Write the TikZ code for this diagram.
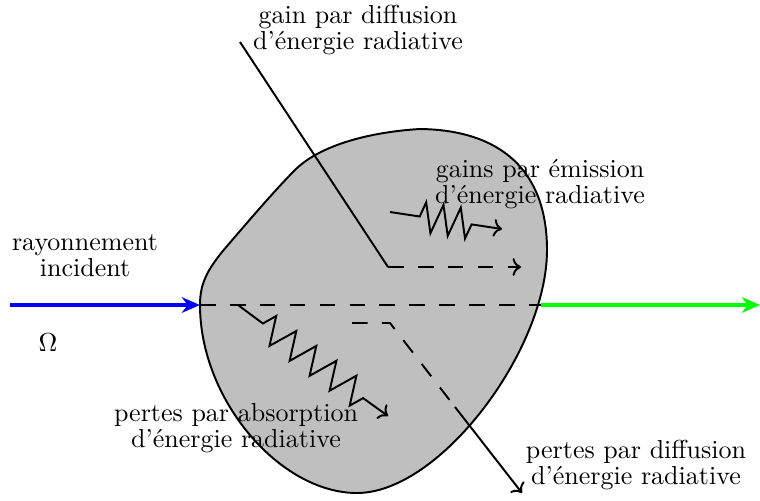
\documentclass[tikz,border=0pt]{standalone}
\usetikzlibrary{arrows.meta}
\begin{document}
\begin{tikzpicture}[x=0.3846pt,y=-0.3846pt,
  thinline/.style={line width=0.75pt},
  dashline/.style={line width=0.75pt,dash pattern=on 6pt off 5.5pt},
  beam/.style={line width=1.8pt,-{Stealth[length=7pt,width=6pt]}},
  lbl/.style={align=center,font=\fontsize{10}{10}\selectfont,inner sep=0pt}]
\useasboundingbox (0,0) rectangle (760,500);
% medium
\draw[thinline,fill=lightgray] (200,305)
  .. controls (200,285) and (206,272) .. (222,252)
  .. controls (245,225) and (275,190) .. (295,170)
  .. controls (320,145) and (370,132) .. (420,129)
  .. controls (500,130) and (547,170) .. (547,250)
  .. controls (547,350) and (440,493) .. (357,493)
  .. controls (280,493) and (200,400) .. (200,305) -- cycle;
% coordinates
\coordinate (inL) at (10,305);
\coordinate (inR) at (200,305);
\coordinate (outL) at (541,305);
\coordinate (outR) at (760,305);
\coordinate (g0) at (240,42);
\coordinate (g1) at (388,267);
\coordinate (g2) at (521,267);
\coordinate (d0) at (352,323);
\coordinate (d1) at (390,323);
\coordinate (d2) at (455,407);
\coordinate (d3) at (522,493);
\coordinate (a0) at (238,305);
\coordinate (a1) at (388,416);
\coordinate (e0) at (390,212);
\coordinate (e1) at (502,229);
% beams
\draw[beam,blue] (inL) -- (inR);
\draw[beam,green] (outL) -- (outR);
\draw[dashline] (inR) -- (outL);
% gain by scattering
\draw[thinline] (g0) -- (g1);
\draw[dashline,->] (g1) -- (g2);
% loss by scattering
\draw[dashline] (d0) -- (d1) -- (d2);
\draw[thinline,->] (d2) -- (d3);
% absorption
\draw[thinline,->] (a0) -- (262.9,323.5) -- (276.2,316.0) -- (269.5,345.9)
  -- (296.3,331.0) -- (289.6,360.9) -- (316.3,345.9) -- (309.6,375.8)
  -- (336.4,360.8) -- (329.6,390.7) -- (356.4,375.7) -- (349.7,405.6)
  -- (363.1,398.1) -- (a1);
% emission
\draw[thinline,->] (e0) -- (419.7,216.5) -- (426.2,202.3) -- (430.4,233.3)
  -- (443.5,204.9) -- (447.7,235.9) -- (460.8,207.6) -- (465.0,238.5)
  -- (471.6,224.4) -- (e1);
% labels
\node[lbl] (tgain) at (358,30) {gain par diffusion\\d’énergie radiative};
\node[lbl] (temis) at (540,184) {gains par émission\\d’énergie radiative};
\node[lbl] (tinc) at (85,256) {rayonnement\\incident};
\node[lbl] (tomega) at (48,343) {$\Omega$};
\node[lbl] (tabs) at (236,428) {pertes par absorption\\d’énergie radiative};
\node[lbl] (tdiff) at (636,465) {pertes par diffusion\\d’énergie radiative};
\end{tikzpicture}
\end{document}
